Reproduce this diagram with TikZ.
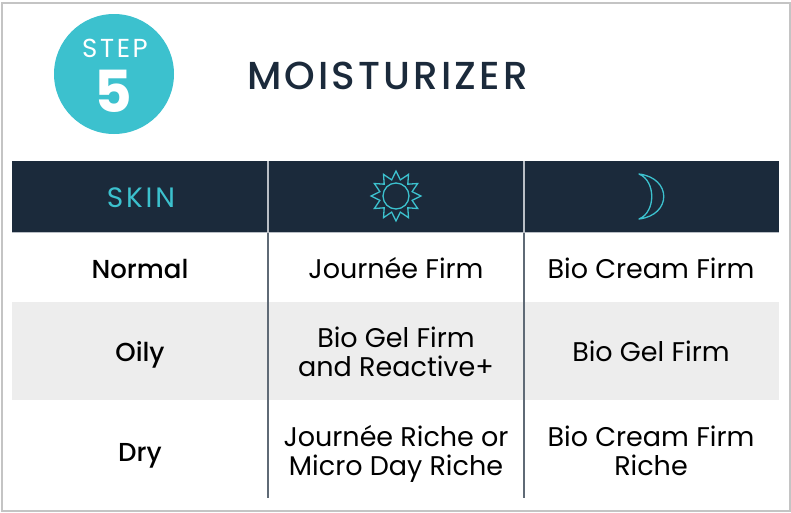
\documentclass[tikz,border=0pt]{standalone}
\usepackage{fontspec}
\setmainfont{Poppins}
\newfontfamily\medfont{Poppins Medium}
\newfontfamily\titlefont{Poppins Medium}[LetterSpace=8]
\newfontfamily\widefont{Poppins}[LetterSpace=10]
\usetikzlibrary{shapes.geometric}

\definecolor{navy}{HTML}{1B2A3B}
\definecolor{teal}{HTML}{3CC1CE}
\definecolor{rowgray}{HTML}{EDEDED}
\definecolor{rulegray}{HTML}{5F6A76}
\definecolor{hdgray}{HTML}{B9BEC5}
\definecolor{framegray}{HTML}{C4C4C4}

\tikzset{
  cell/.style={anchor=base,align=center,text=black,font=\fontsize{27}{29}\selectfont},
  skintype/.style={anchor=base,text=black,font=\medfont\fontsize{26}{29}\selectfont},
  bodyrule/.style={draw=rulegray,line width=1.5pt},
  hdrule/.style={draw=hdgray,line width=1.5pt}
}

\begin{document}
\begin{tikzpicture}[x=1pt,y=-1pt]
\useasboundingbox (0,0) rectangle (791,512);
% Frame
\draw[framegray,line width=1.2pt] (2,3) rectangle (790,511);

% Step badge
\node[circle,fill=teal,minimum size=120pt,inner sep=0pt] (badge) at (114,74) {};
\node[anchor=base,text=white,font=\widefont\fontsize{26}{26}\selectfont] (steplbl) at (115,57) {STEP};
\node[anchor=base,text=white,font=\bfseries\fontsize{58}{58}\selectfont] (stepnum) at (113,112) {5};

% Title
\node[anchor=base west,inner sep=0pt,text=navy,font=\titlefont\fontsize{39}{39}\selectfont] (title) at (247,89) {MOISTURIZER};

% Table background
\fill[navy] (12,161) rectangle (779,232);
\fill[rowgray] (12,302) rectangle (779,400);

% Column rules
\draw[bodyrule] (268,232) -- (268,498);
\draw[bodyrule] (524,232) -- (524,498);
\draw[hdrule] (268,161) -- (268,232);
\draw[hdrule] (524,161) -- (524,232);
\draw[hdgray,line width=0.8pt] (12,232) -- (779,232);

% Header
\node[anchor=base,text=teal,font=\widefont\fontsize{28}{28}\selectfont] (skinhd) at (141,207) {SKIN};
\node[star,star points=12,star point ratio=1.5,minimum size=50pt,inner sep=0pt,draw=teal,line width=1.3pt] (sun) at (396,196) {};
\node[circle,minimum size=26pt,inner sep=0pt,draw=teal,line width=1.3pt] (suncore) at (sun.center) {};
\draw[teal,line width=1.3pt,line join=round] (639,174) .. controls (672,178) and (672,215) .. (639,219)
  .. controls (656,212) and (656,181) .. (639,174) -- cycle;

% Normal
\node[skintype] (normal) at (140,278) {Normal};
\node[cell] (normalday) at (396,278) {Journée Firm};
\node[cell] (normalnight) at (651,278) {Bio Cream Firm};

% Oily
\node[skintype] (oily) at (140,361) {Oily};
\node[cell] (oilyday) at (396,376) {Bio Gel Firm\\and Reactive+};
\node[cell] (oilynight) at (651,361) {Bio Gel Firm};

% Dry
\node[skintype] (dry) at (140,461) {Dry};
\node[cell] (dryday) at (396,475) {Journée Riche or\\Micro Day Riche};
\node[cell] (drynight) at (651,475) {Bio Cream Firm\\Riche};

\end{tikzpicture}
\end{document}
